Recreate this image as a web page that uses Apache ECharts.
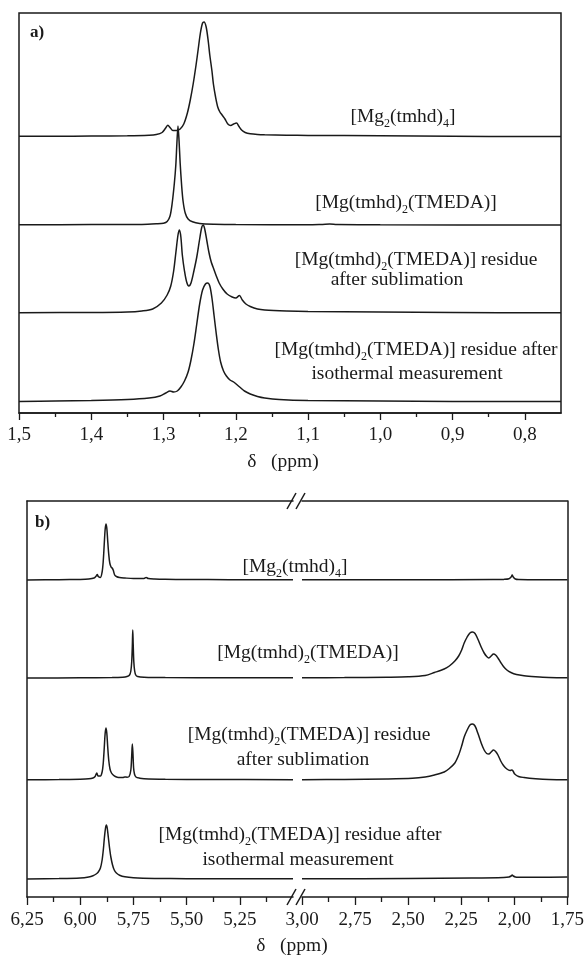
<!DOCTYPE html>
<html>
<head>
<meta charset="utf-8">
<script src="https://cdn.jsdelivr.net/npm/echarts@6/dist/echarts.min.js"></script>
<style>html,body{margin:0;padding:0;background:#fff}#c{width:587px;height:956px}</style>
</head>
<body>
<div id="c"></div>
<script>
// ---------- tick values & labels ----------
const aTicks = [1.5, 1.4, 1.3, 1.2, 1.1, 1.0, 0.9, 0.8];
const aTickLabels = ['1,5', '1,4', '1,3', '1,2', '1,1', '1,0', '0,9', '0,8'];
const aMinorTicks = [1.45, 1.35, 1.25, 1.15, 1.05, 0.95, 0.85];
const bLeftTicks = [6.25, 6.0, 5.75, 5.5, 5.25];
const bLeftTickLabels = ['6,25', '6,00', '5,75', '5,50', '5,25'];
const bLeftMinor = [6.125, 5.875, 5.625, 5.375, 5.125];
const bRightTicks = [3.0, 2.75, 2.5, 2.25, 2.0, 1.75];
const bRightTickLabels = ['3,00', '2,75', '2,50', '2,25', '2,00', '1,75'];
const bRightMinor = [2.875, 2.625, 2.375, 2.125, 1.875];

// ---------- spectra: [ppm, intensity] ----------
// panel a (1.5 – 0.75 ppm)
const aMg2 = [[1.50,0.7],[1.45,0.8],[1.40,0.9],[1.35,1.2],[1.32,1.8],[1.31,2.5],[1.302,4.5],[1.297,9],[1.294,11.7],[1.291,9.5],[1.287,6.5],[1.282,6.5],[1.277,8],[1.272,13],[1.267,24],[1.263,37],[1.259,53],[1.255,72],[1.252,88],[1.249,104],[1.246,114],[1.244,115],[1.241,110],[1.238,95],[1.236,82],[1.233,66],[1.231,53],[1.228,40],[1.225,30],[1.222,25],[1.219,22],[1.215,18],[1.211,13],[1.207,11.5],[1.203,13],[1.199,14],[1.196,11],[1.192,7],[1.187,4.5],[1.18,3.2],[1.17,2.5],[1.16,2.2],[1.13,1.8],[1.10,1.6],[1.00,1.2],[0.90,0.8],[0.80,0.5],[0.75,0.5]];
const aTmeda = [[1.50,0.3],[1.40,0.4],[1.33,0.6],[1.31,1.2],[1.30,1.8],[1.295,3.5],[1.291,9],[1.288,22],[1.285,42],[1.283,60],[1.2815,82],[1.280,99],[1.2785,84],[1.277,62],[1.275,40],[1.273,24],[1.270,12],[1.266,6],[1.26,3.2],[1.25,1.6],[1.23,0.8],[1.20,0.4],[1.10,0.2],[1.08,0.6],[1.07,0.9],[1.06,0.5],[1.00,0.2],[0.75,0]];
const aSubl = [[1.50,0.3],[1.40,0.5],[1.35,1],[1.33,2],[1.315,4],[1.303,10],[1.295,18],[1.29,27],[1.286,42],[1.283,60],[1.280,78],[1.278,83],[1.276,76],[1.274,58],[1.271,42],[1.268,31],[1.265,27],[1.262,30],[1.258,42],[1.254,56],[1.250,74],[1.247,86],[1.245,88],[1.243,84],[1.240,72],[1.237,60],[1.234,51],[1.231,45],[1.227,37],[1.223,30],[1.218,24],[1.212,19],[1.205,16],[1.200,15],[1.195,17.5],[1.191,13],[1.186,9],[1.18,6.5],[1.17,4],[1.16,3],[1.13,2],[1.10,1.5],[1.00,1],[0.90,0.5],[0.75,0.2]];
const aIso = [[1.50,0.5],[1.45,1],[1.40,1.5],[1.35,2.5],[1.32,4],[1.305,6],[1.297,9],[1.291,11],[1.286,10],[1.281,11],[1.276,15],[1.271,21],[1.266,30],[1.262,42],[1.258,58],[1.254,78],[1.250,98],[1.246,112],[1.242,118],[1.239,119],[1.236,116],[1.233,104],[1.230,86],[1.227,68],[1.224,52],[1.221,40],[1.217,31],[1.213,26],[1.208,22],[1.203,20],[1.198,17],[1.193,14],[1.188,11],[1.18,8],[1.17,5.5],[1.16,4],[1.14,2.5],[1.10,1.5],[1.00,1],[0.90,0.6],[0.75,0.5]];

// panel b, left segment (6.25 – 5.00 ppm)
const bMg2L = [[6.25,0],[6.10,0.3],[6.00,0.6],[5.96,1],[5.935,2],[5.925,4],[5.92,5.5],[5.915,3.5],[5.905,2.5],[5.897,8],[5.892,18],[5.887,36],[5.883,50],[5.879,56],[5.875,52],[5.871,40],[5.866,26],[5.861,17],[5.855,13],[5.85,12],[5.845,10],[5.838,5],[5.83,3.5],[5.815,2.5],[5.79,2],[5.75,1.5],[5.70,1.5],[5.69,2.5],[5.68,1.5],[5.65,1],[5.60,0.7],[5.50,0.5],[5.30,0.3],[5.00,0.2]];
const bTmedaL = [[6.25,0],[6.00,0.2],[5.85,0.4],[5.80,0.8],[5.78,1.5],[5.768,3],[5.762,7],[5.758,16],[5.755,32],[5.753,48],[5.751,34],[5.748,16],[5.744,7],[5.739,3],[5.73,1.5],[5.70,0.8],[5.60,0.4],[5.30,0.2],[5.00,0.2]];
const bSublL = [[6.25,0.2],[6.10,0.4],[6.00,0.8],[5.96,1.2],[5.94,2],[5.93,3.5],[5.922,7],[5.916,4],[5.905,4],[5.897,8],[5.892,16],[5.887,32],[5.883,46],[5.879,52],[5.875,47],[5.871,34],[5.866,20],[5.86,11],[5.853,7],[5.845,5],[5.835,3.5],[5.82,2.5],[5.80,2.5],[5.79,3],[5.78,2.8],[5.77,3.5],[5.762,10],[5.758,24],[5.755,36],[5.752,26],[5.749,12],[5.745,6],[5.738,3],[5.72,1.8],[5.70,1.3],[5.60,0.8],[5.40,0.5],[5.00,0.3]];
const bIsoL = [[6.25,0],[6.10,0.4],[6.00,1],[5.96,2],[5.94,3.2],[5.925,5],[5.915,7],[5.905,11],[5.897,19],[5.891,30],[5.886,42],[5.881,51],[5.877,54],[5.873,51],[5.868,42],[5.862,31],[5.856,22],[5.848,14],[5.84,9],[5.83,6],[5.815,3.8],[5.79,2.2],[5.75,1.3],[5.65,0.6],[5.50,0.3],[5.00,0.2]];

// panel b, right segment (3.00 – 1.75 ppm)
const bMg2R = [[3.00,0.3],[2.50,0.3],[2.10,0.4],[2.05,0.6],[2.025,1.2],[2.015,3],[2.01,5],[2.005,3],[1.995,1],[1.98,0.5],[1.90,0.3],[1.75,0.2]];
const bTmedaR = [[3.00,0.3],[2.80,0.4],[2.60,0.8],[2.50,1.2],[2.42,2.5],[2.376,5.5],[2.33,9],[2.306,12],[2.28,17],[2.262,22],[2.248,28],[2.236,35],[2.222,41],[2.209,45],[2.197,46],[2.185,44.5],[2.172,39],[2.156,31],[2.142,25],[2.13,21.5],[2.12,20],[2.109,22],[2.098,24],[2.088,23],[2.077,20],[2.064,15.5],[2.051,11.5],[2.035,8],[2.016,5.5],[1.99,3.5],[1.954,2.3],[1.90,1.2],[1.866,0.7],[1.80,0.3],[1.75,0.2]];
const bSublR = [[3.00,0.3],[2.80,0.5],[2.60,1],[2.48,1.7],[2.42,3],[2.376,5],[2.33,8],[2.306,11.5],[2.28,17],[2.262,25],[2.248,34],[2.236,43],[2.222,50],[2.209,55],[2.197,56],[2.185,54],[2.172,47],[2.156,37],[2.142,30],[2.13,26.5],[2.12,26],[2.109,28],[2.098,30],[2.088,28.5],[2.077,25],[2.064,19],[2.051,14.5],[2.035,11],[2.02,9.5],[2.012,10],[2.006,9],[1.998,6],[1.98,3.5],[1.954,2.5],[1.90,1.2],[1.866,0.7],[1.80,0.3],[1.75,0.2]];
const bIsoR = [[3.00,0.2],[2.50,0.5],[2.20,1],[2.05,1.5],[2.025,2],[2.015,3],[2.01,4],[2.005,3],[1.995,2],[1.98,1.8],[1.90,1.8],[1.75,2]];

// ---------- layout ----------
const FONT = 'Liberation Serif';
const INK = '#1a1a1a';
const A = {left: 19, right: 561, top: 13, bottom: 413};
const B = {left: 27, mid1: 293, mid2: 302, right: 568, top: 501, bottom: 897};
const aBase = [137, 225, 313, 402];
const bBase = [580, 678, 780, 879];

function lbl(vals, labs) {
  return v => { for (let i = 0; i < vals.length; i++) if (Math.abs(vals[i] - v) < 1e-6) return labs[i]; return ''; };
}
function yFor(base, top, bottom) {
  const H = bottom - top;
  const mn = -(bottom - base);
  return {min: mn, max: mn + H};
}

const grids = [
  {left: A.left, top: A.top, width: A.right - A.left, height: A.bottom - A.top, show: true, borderColor: INK, borderWidth: 1.5, backgroundColor: 'transparent'},
  {left: B.left, top: B.top, width: B.mid1 - B.left, height: B.bottom - B.top},
  {left: B.mid2, top: B.top, width: B.right - B.mid2, height: B.bottom - B.top}
];

const axLine = {show: true, onZero: false, lineStyle: {color: INK, width: 1.5}};
const labStyle = {fontFamily: FONT, fontSize: 19, color: INK};
function majorX(gi, min, max, ticks, labs, len, margin) {
  return {type: 'value', gridIndex: gi, position: 'bottom', min, max, inverse: true,
    axisLine: axLine, splitLine: {show: false},
    axisTick: {show: true, inside: false, length: len, customValues: ticks, lineStyle: {color: INK, width: 1.3}},
    axisLabel: {show: true, customValues: ticks, formatter: lbl(ticks, labs), margin, ...labStyle}};
}
function minorX(gi, min, max, ticks, len) {
  return {type: 'value', gridIndex: gi, position: 'bottom', min, max, inverse: true,
    axisLine: {show: false, onZero: false}, splitLine: {show: false}, axisLabel: {show: false},
    axisTick: {show: true, length: len, customValues: ticks, lineStyle: {color: INK, width: 1.3}}};
}
function topLine(gi, min, max) {
  return {type: 'value', gridIndex: gi, position: 'top', min, max, inverse: true,
    axisLine: axLine, axisTick: {show: false}, axisLabel: {show: false}, splitLine: {show: false}};
}

const xAxes = [
  majorX(0, 0.75, 1.5, aTicks, aTickLabels, 7, 13),
  minorX(0, 0.75, 1.5, aMinorTicks, 4),
  majorX(1, 5.0, 6.25, bLeftTicks, bLeftTickLabels, 8, 14),
  minorX(1, 5.0, 6.25, bLeftMinor, 5),
  topLine(1, 5.0, 6.25),
  majorX(2, 1.75, 3.0, bRightTicks, bRightTickLabels, 8, 14),
  minorX(2, 1.75, 3.0, bRightMinor, 5),
  topLine(2, 1.75, 3.0)
];

const yAxes = [];
aBase.forEach(b => yAxes.push({type: 'value', gridIndex: 0, show: false, ...yFor(b, A.top, A.bottom)}));
bBase.forEach(b => yAxes.push({type: 'value', gridIndex: 1, show: false, ...yFor(b, B.top, B.bottom)}));
yAxes.push({type: 'value', gridIndex: 1, position: 'left', min: 0, max: 1, axisLine: axLine, axisTick: {show: false}, axisLabel: {show: false}, splitLine: {show: false}});
bBase.forEach(b => yAxes.push({type: 'value', gridIndex: 2, show: false, ...yFor(b, B.top, B.bottom)}));
yAxes.push({type: 'value', gridIndex: 2, position: 'right', min: 0, max: 1, axisLine: axLine, axisTick: {show: false}, axisLabel: {show: false}, splitLine: {show: false}});

function spec(data, xi, yi) {
  return {type: 'line', data, xAxisIndex: xi, yAxisIndex: yi, symbol: 'none', smooth: 0.3, clip: false,
    lineStyle: {color: INK, width: 1.5}, silent: true, animation: false};
}
const series = [
  spec(aMg2, 0, 0), spec(aTmeda, 0, 1), spec(aSubl, 0, 2), spec(aIso, 0, 3),
  spec(bMg2L, 2, 4), spec(bTmedaL, 2, 5), spec(bSublL, 2, 6), spec(bIsoL, 2, 7),
  spec(bMg2R, 5, 9), spec(bTmedaR, 5, 10), spec(bSublR, 5, 11), spec(bIsoR, 5, 12)
];

// ---------- texts ----------
const rich = {
  n: {fontFamily: FONT, fontSize: 19.5, lineHeight: 22, color: INK},
  s: {fontFamily: FONT, fontSize: 12, height: 8, lineHeight: 8, verticalAlign: 'bottom', color: INK},
  b: {fontFamily: FONT, fontSize: 17, lineHeight: 22, fontWeight: 'bold', color: INK}
};
const mg2 = '{n|[Mg}{s|2}{n|(tmhd)}{s|4}{n|]}';
const mgT = '{n|[Mg(tmhd)}{s|2}{n|(TMEDA)]}';
function txt(x, y, t, align) {
  return {type: 'text', x, y, silent: true, style: {text: t, rich, align: align || 'center', verticalAlign: 'middle', fill: INK}};
}
const graphics = [
  txt(30, 33, '{b|a}{b|)}', 'left'),
  txt(403, 117, mg2),
  txt(406, 203, mgT),
  txt(416, 260, mgT + '{n| residue}'),
  txt(397, 280, '{n|after sublimation}'),
  txt(416, 350, mgT + '{n| residue after}'),
  txt(407, 374, '{n|isothermal measurement}'),
  txt(283, 462, '{n|δ   (ppm)}'),
  txt(35, 523, '{b|b}{b|)}', 'left'),
  txt(295, 567, mg2),
  txt(308, 653, mgT),
  txt(309, 735, mgT + '{n| residue}'),
  txt(303, 760, '{n|after sublimation}'),
  txt(300, 835, mgT + '{n| residue after}'),
  txt(298, 860, '{n|isothermal measurement}'),
  txt(292, 946, '{n|δ   (ppm)}')
];
// axis-break marks
[[B.top], [B.bottom]].forEach(([yy]) => {
  graphics.push({type: 'line', silent: true, shape: {x1: 287, y1: yy + 8, x2: 296, y2: yy - 8}, style: {stroke: INK, lineWidth: 1.5}});
  graphics.push({type: 'line', silent: true, shape: {x1: 296, y1: yy + 8, x2: 305, y2: yy - 8}, style: {stroke: INK, lineWidth: 1.5}});
});

const chart = echarts.init(document.getElementById('c'), null, {renderer: 'canvas'});
chart.setOption({
  backgroundColor: '#fff',
  animation: false,
  grid: grids,
  xAxis: xAxes,
  yAxis: yAxes,
  series,
  graphic: graphics
});
</script>
</body>
</html>
